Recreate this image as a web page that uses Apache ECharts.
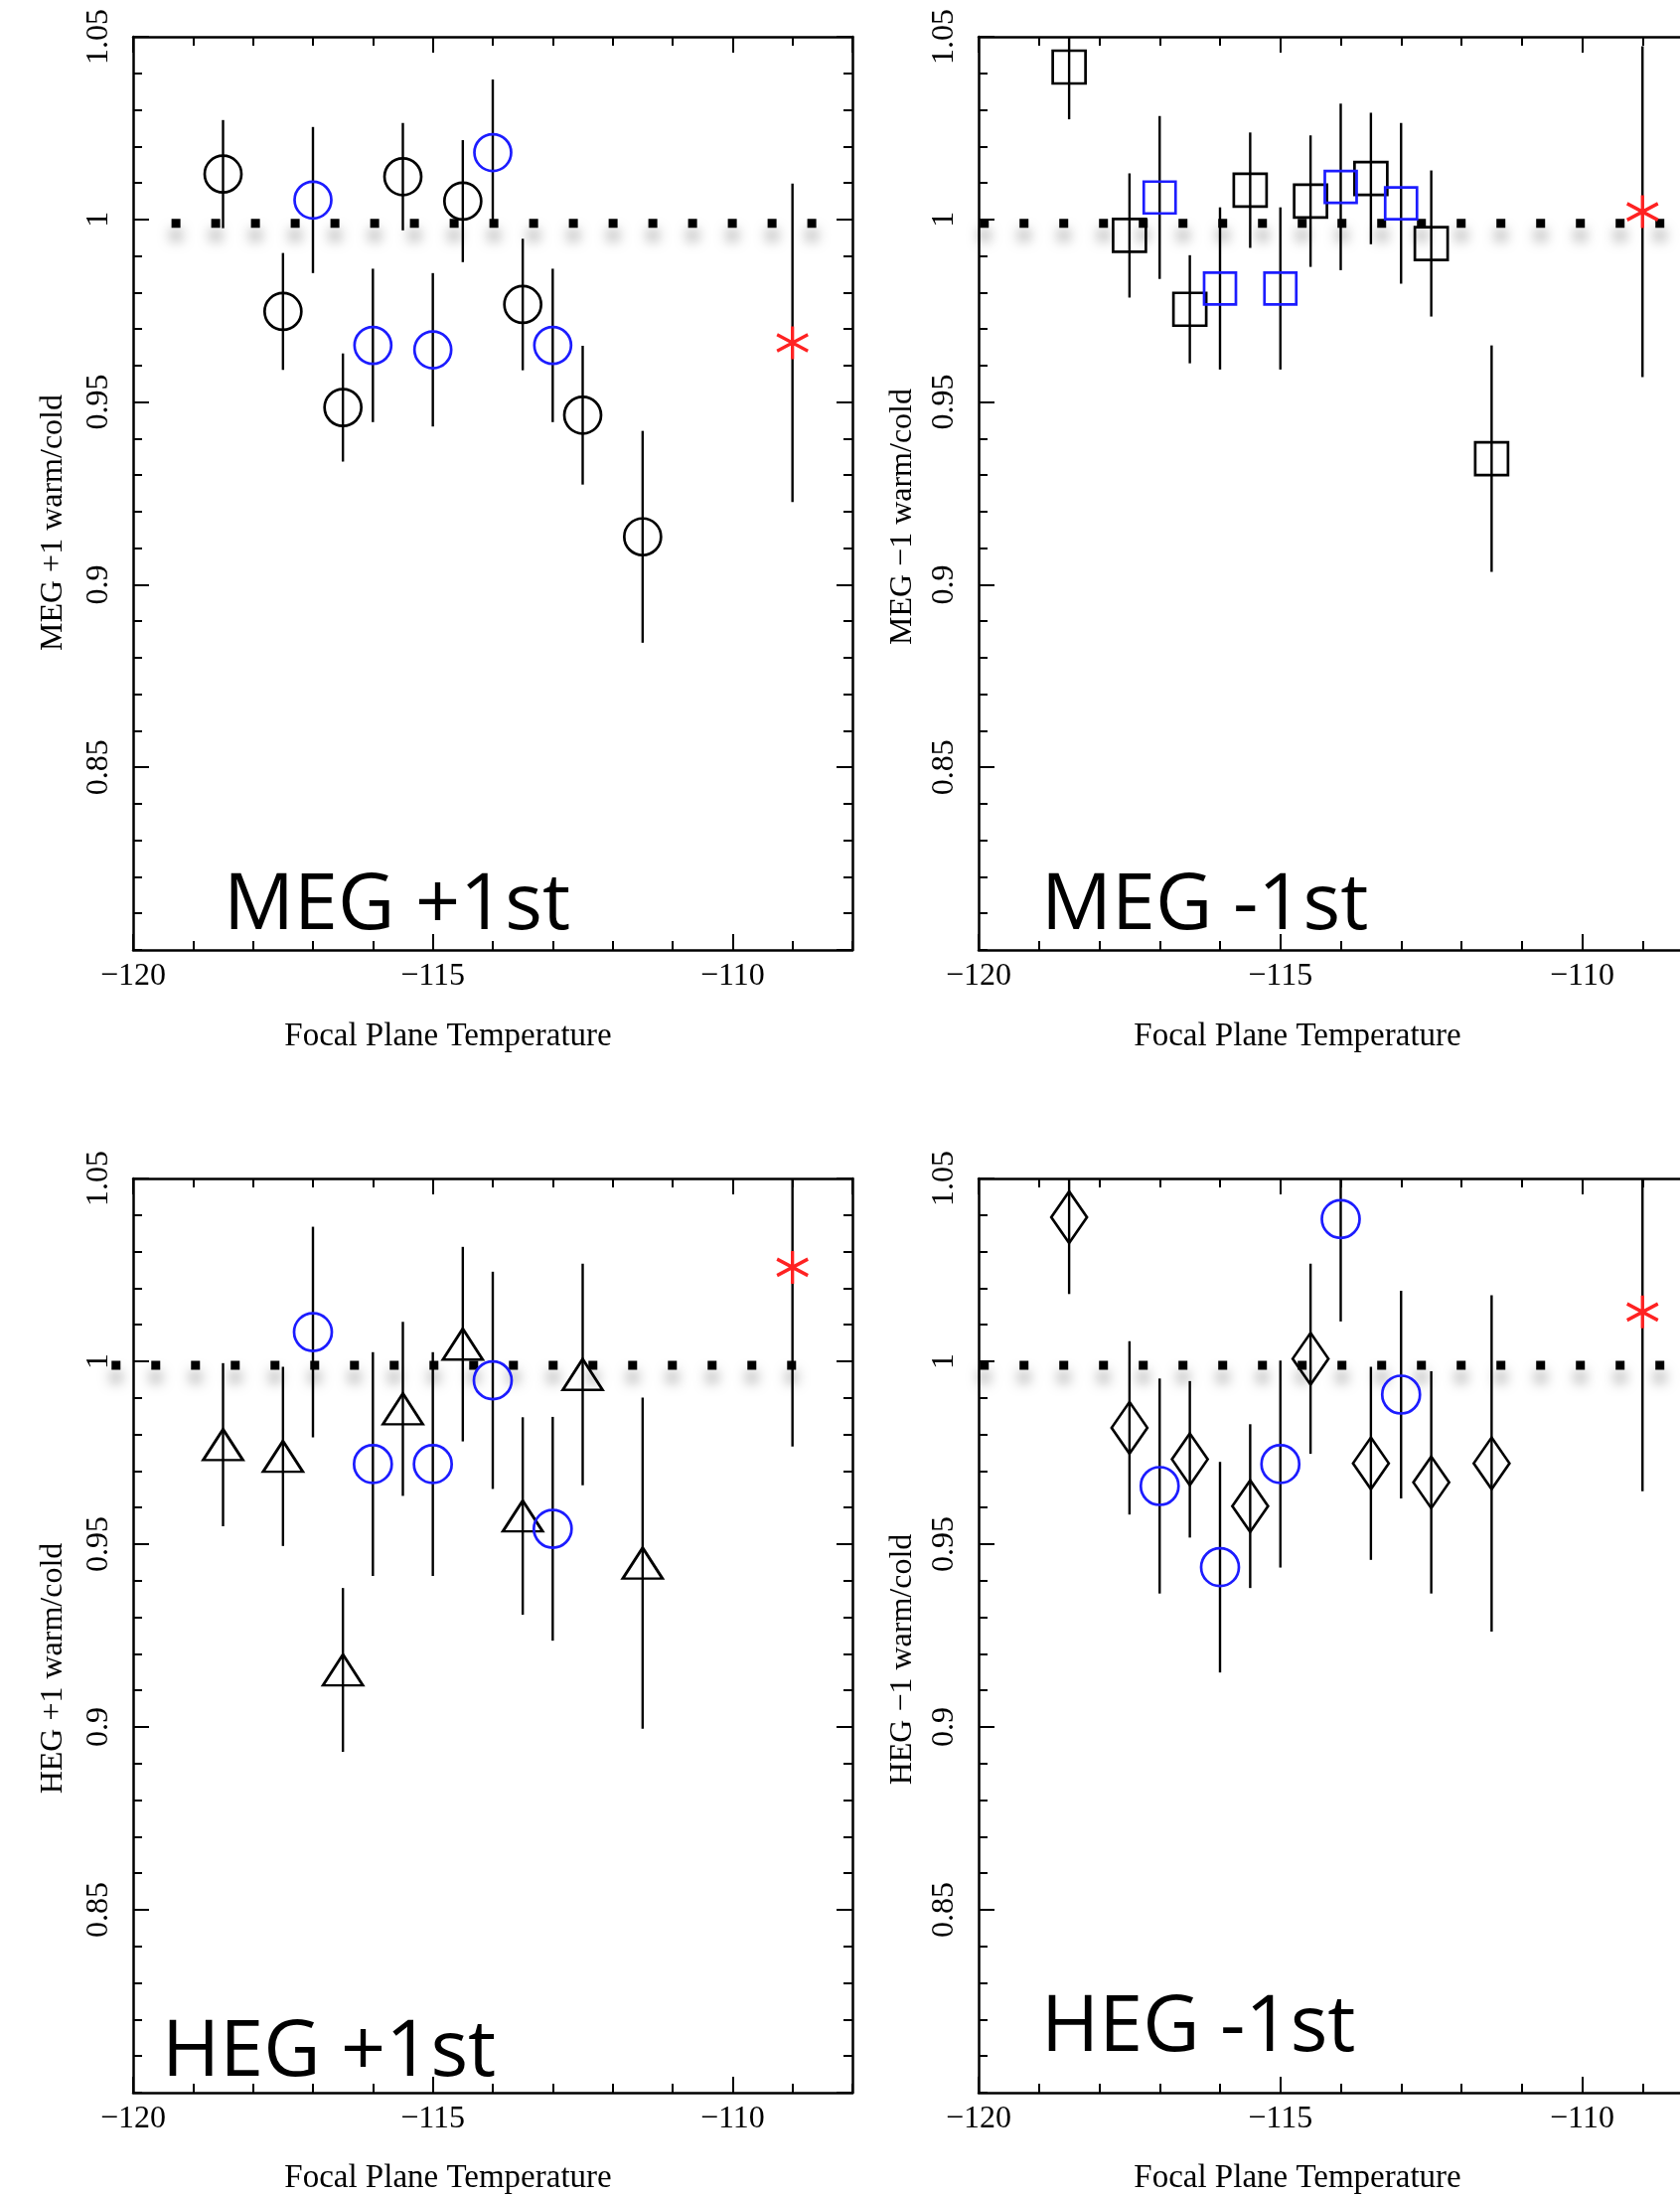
<!DOCTYPE html>
<html lang="en">
<head>
<meta charset="UTF-8">
<title>warm/cold vs Focal Plane Temperature</title>
<style>
    html, body { margin: 0; padding: 0; background: #fff; }
    #container { width: 1691px; height: 2209px; }
</style>
</head>
<body>
<div id="container"></div>
<script src="https://cdn.jsdelivr.net/npm/echarts@6/dist/echarts.min.js"></script>
<script type="text/javascript">
    // focal plane temperatures of the three groups of runs
    var tempBlack = [-118.5, -117.5, -116.5, -115.5, -114.5, -113.5, -112.5, -111.5];
    var tempBlue = [-117, -116, -115, -114, -113];
    var tempRed = [-109];

    // MEG +1 warm/cold
    var megPlusBlack = [1.0124, 0.9748, 0.9485, 1.0117, 1.005, 0.9767, 0.9464, 0.9131];
    var megPlusBlackErr = [0.0148, 0.016, 0.0148, 0.0147, 0.0167, 0.018, 0.019, 0.029];
    var megPlusBlue = [1.0053, 0.9655, 0.9643, 1.0183, 0.9655];
    var megPlusBlueErr = [0.020, 0.021, 0.021, 0.020, 0.021];
    var megPlusRed = [0.9662];
    var megPlusRedErr = [0.0436];

    // MEG -1 warm/cold
    var megMinusBlack = [1.0417, 0.9956, 0.9754, 1.008, 1.005, 1.0112, 0.9934, 0.9345];
    var megMinusBlackErr = [0.0143, 0.017, 0.0148, 0.0158, 0.018, 0.018, 0.020, 0.031];
    var megMinusBlue = [1.006, 0.9811, 0.9811, 1.0089, 1.0044];
    var megMinusBlueErr = [0.0223, 0.0222, 0.0222, 0.0228, 0.022];
    var megMinusRed = [1.0021];
    var megMinusRedErr = [0.0453];

    // HEG +1 warm/cold
    var hegPlusBlack = [0.9772, 0.974, 0.9156, 0.987, 1.0047, 0.9577, 0.9964, 0.9448];
    var hegPlusBlackErr = [0.0223, 0.0245, 0.0224, 0.0238, 0.0266, 0.027, 0.0303, 0.0453];
    var hegPlusBlue = [1.008, 0.9719, 0.9719, 0.9948, 0.9542];
    var hegPlusBlueErr = [0.0288, 0.0306, 0.0306, 0.0297, 0.0306];
    var hegPlusRed = [1.0257];
    var hegPlusRedErr = [0.049];

    // HEG -1 warm/cold
    var hegMinusBlack = [1.0394, 0.9818, 0.9732, 0.9604, 1.0007, 0.9721, 0.9669, 0.9721];
    var hegMinusBlackErr = [0.021, 0.0237, 0.0214, 0.0224, 0.026, 0.0264, 0.0304, 0.046];
    var hegMinusBlue = [0.9659, 0.9437, 0.9719, 1.0389, 0.9909];
    var hegMinusBlueErr = [0.0294, 0.0288, 0.0283, 0.028, 0.0284];
    var hegMinusRed = [1.0135];
    var hegMinusRedErr = [0.049];

    // reference line at ratio = 1 (start / end temperature of the dotted line)
    var refLineSpan = [[-119.36, -108.52], [-119.98, -108], [-120.36, -108.86], [-119.98, -108]];

    var X_MIN = -120, X_MAX = -108, Y_MIN = 0.8, Y_MAX = 1.05;
    var BLUE = '#1c1cff', RED = '#ff2222';
    var SERIF = '"Liberation Serif", "Times New Roman", serif';
    var STAR = 'path://M0,0L0,20M-8.66,5L8.66,15M-8.66,15L8.66,5';

    var panels = [
        {yName: 'MEG +1 warm/cold', tag: 'MEG +1st', black: megPlusBlack, blackErr: megPlusBlackErr,
         blue: megPlusBlue, blueErr: megPlusBlueErr, red: megPlusRed, redErr: megPlusRedErr,
         blackSymbol: 'circle', blackSize: [37, 37], blueSymbol: 'circle', blueSize: [37, 37]},
        {yName: 'MEG \u22121 warm/cold', tag: 'MEG -1st', black: megMinusBlack, blackErr: megMinusBlackErr,
         blue: megMinusBlue, blueErr: megMinusBlueErr, red: megMinusRed, redErr: megMinusRedErr,
         blackSymbol: 'rect', blackSize: [33, 33], blueSymbol: 'rect', blueSize: [32, 32]},
        {yName: 'HEG +1 warm/cold', tag: 'HEG +1st', black: hegPlusBlack, blackErr: hegPlusBlackErr,
         blue: hegPlusBlue, blueErr: hegPlusBlueErr, red: hegPlusRed, redErr: hegPlusRedErr,
         blackSymbol: 'triangle', blackSize: [40, 31], blueSymbol: 'circle', blueSize: [38, 38]},
        {yName: 'HEG \u22121 warm/cold', tag: 'HEG -1st', black: hegMinusBlack, blackErr: hegMinusBlackErr,
         blue: hegMinusBlue, blueErr: hegMinusBlueErr, red: hegMinusRed, redErr: hegMinusRedErr,
         blackSymbol: 'diamond', blackSize: [36, 52], blueSymbol: 'circle', blueSize: [38, 38]}
    ];

    // plot boxes and text placement
    var layout = [
        {grid: {left: 134, top: 37, width: 724, height: 919}, xTitle: [451, 1043], yTitle: [54, 526], tag: [225, 912]},
        {grid: {left: 985, top: 37, width: 729, height: 919}, xTitle: [1306, 1043], yTitle: [909, 520], tag: [1048, 912]},
        {grid: {left: 134, top: 1186, width: 724, height: 920}, xTitle: [451, 2192], yTitle: [54, 1679], tag: [163, 2066]},
        {grid: {left: 985, top: 1186, width: 729, height: 920}, xTitle: [1306, 2192], yTitle: [909, 1670], tag: [1048, 2041]}
    ];

    function pairs(xs, ys) {
        return xs.map(function (x, i) { return [x, ys[i]]; });
    }
    function triples(xs, ys, es) {
        return xs.map(function (x, i) { return [x, ys[i], es[i]]; });
    }

    function makeAxis(dim, g, pos, major, withLabel) {
        var isX = dim === 'x';
        var label = {show: false};
        if (withLabel && isX) {
            label = {show: true, showMaxLabel: false, margin: 11, color: '#000', fontFamily: SERIF, fontSize: 32,
                formatter: function (v) { return v < 0 ? '\u2212' + Math.abs(v) : String(v); }};
        } else if (withLabel) {
            label = {show: true, showMinLabel: false, rotate: 90, margin: 18, color: '#000', fontFamily: SERIF, fontSize: 32,
                formatter: function (v) { return String(Math.round(v * 100) / 100); }};
        }
        return {
            type: 'value', gridIndex: g, position: pos,
            min: isX ? X_MIN : Y_MIN, max: isX ? X_MAX : Y_MAX,
            interval: isX ? (major ? 5 : 1) : (major ? 0.05 : 0.01),
            splitLine: {show: false},
            axisLine: {show: major, onZero: false, lineStyle: {color: '#000', width: 2.5}},
            axisTick: {show: true, inside: true, length: major ? 16 : 9, lineStyle: {color: '#000', width: 2}},
            axisLabel: label,
            silent: true
        };
    }

    function errorBars(params, api) {
        var x = api.value(0), y = api.value(1), e = api.value(2);
        var lo = api.coord([x, Math.max(y - e, Y_MIN)]);
        var hi = api.coord([x, Math.min(y + e, Y_MAX)]);
        return {type: 'line', shape: {x1: lo[0], y1: lo[1], x2: hi[0], y2: hi[1]},
            style: {stroke: '#000', lineWidth: 2.4}};
    }

    function dottedLine(params, api) {
        var a = api.coord([api.value(0), api.value(1)]);
        var b = api.coord([api.value(2), api.value(1)]);
        return {type: 'line', shape: {x1: a[0], y1: a[1] + 4, x2: b[0], y2: b[1] + 4},
            style: {stroke: '#000', lineWidth: 9, lineDash: [9, 31], lineCap: 'butt',
                shadowColor: 'rgba(0,0,0,0.5)', shadowBlur: 13, shadowOffsetY: 12}};
    }

    var option = {animation: false, backgroundColor: '#fff', grid: [], xAxis: [], yAxis: [], series: [], graphic: []};

    panels.forEach(function (p, g) {
        var L = layout[g];
        option.grid.push(Object.assign({containLabel: false, outerBoundsMode: 'none'}, L.grid));
        option.xAxis.push(makeAxis('x', g, 'bottom', true, true), makeAxis('x', g, 'bottom', false, false),
            makeAxis('x', g, 'top', true, false), makeAxis('x', g, 'top', false, false));
        option.yAxis.push(makeAxis('y', g, 'left', true, true), makeAxis('y', g, 'left', false, false),
            makeAxis('y', g, 'right', true, false), makeAxis('y', g, 'right', false, false));
        var ax = {xAxisIndex: 4 * g, yAxisIndex: 4 * g};

        option.series.push(Object.assign({
            type: 'custom', renderItem: dottedLine, clip: false, silent: true, z: 1,
            data: [[refLineSpan[g][0], 1, refLineSpan[g][1]]]
        }, ax));
        option.series.push(Object.assign({
            type: 'custom', renderItem: errorBars, silent: true, z: 2,
            data: triples(tempBlack, p.black, p.blackErr)
                .concat(triples(tempBlue, p.blue, p.blueErr))
                .concat(triples(tempRed, p.red, p.redErr))
        }, ax));
        option.series.push(Object.assign({
            type: 'scatter', silent: true, z: 3, symbol: p.blackSymbol, symbolSize: p.blackSize,
            itemStyle: {color: 'rgba(0,0,0,0)', borderColor: '#000', borderWidth: 2.7, opacity: 1},
            data: pairs(tempBlack, p.black)
        }, ax));
        option.series.push(Object.assign({
            type: 'scatter', silent: true, z: 3, symbol: p.blueSymbol, symbolSize: p.blueSize,
            itemStyle: {color: 'rgba(0,0,0,0)', borderColor: BLUE, borderWidth: 2.7, opacity: 1},
            data: pairs(tempBlue, p.blue)
        }, ax));
        option.series.push(Object.assign({
            type: 'scatter', silent: true, z: 3, symbol: STAR, symbolSize: [31, 33],
            itemStyle: {color: 'rgba(0,0,0,0)', borderColor: RED, borderWidth: 3.4, opacity: 1},
            data: pairs(tempRed, p.red)
        }, ax));

        option.graphic.push(
            {type: 'text', x: L.xTitle[0], y: L.xTitle[1], silent: true,
             style: {text: 'Focal Plane Temperature', font: '33px ' + SERIF, fill: '#000',
                     align: 'center', verticalAlign: 'middle', textAlign: 'center', textVerticalAlign: 'middle'}},
            {type: 'text', x: L.yTitle[0], y: L.yTitle[1], rotation: Math.PI / 2, silent: true,
             style: {text: p.yName, font: '32px ' + SERIF, fill: '#000',
                     align: 'center', verticalAlign: 'middle', textAlign: 'center', textVerticalAlign: 'middle'}},
            {type: 'text', x: L.tag[0], y: L.tag[1], silent: true, z: 10,
             style: {text: p.tag, font: '79px "Open Sans", "Noto Sans", sans-serif', fill: '#000',
                     align: 'left', verticalAlign: 'middle', textAlign: 'left', textVerticalAlign: 'middle'}}
        );
    });

    var chart = echarts.init(document.getElementById('container'));
    chart.setOption(option);
</script>
</body>
</html>
